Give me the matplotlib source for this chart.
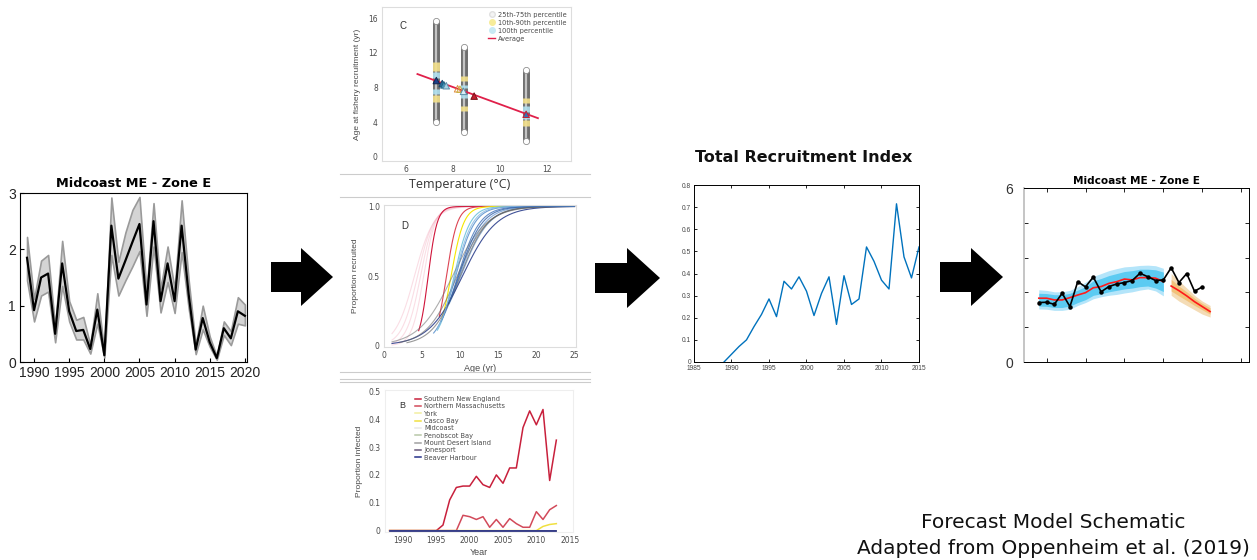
import numpy as np
import matplotlib
matplotlib.use("Agg")
import matplotlib.pyplot as plt
from matplotlib.patches import Polygon
from matplotlib.lines import Line2D

# ---------------- data ----------------
# Panel 1: Midcoast ME - Zone E (recruitment, with band)
years1 = list(range(1989, 2021))
rec1 = [1.85, 0.92, 1.5, 1.57, 0.5, 1.75, 0.9, 0.55, 0.57, 0.23, 0.93, 0.12,
        2.42, 1.48, 1.8, 2.13, 2.45, 1.02, 2.5, 1.08, 1.75, 1.08, 2.42, 1.2,
        0.22, 0.78, 0.35, 0.07, 0.6, 0.42, 0.9, 0.82]
rec1_hi = [2.22, 1.12, 1.8, 1.9, 0.62, 2.15, 1.08, 0.75, 0.8, 0.3, 1.22, 0.18,
           2.92, 1.78, 2.3, 2.7, 2.93, 1.25, 2.82, 1.3, 2.05, 1.3, 2.87, 1.45,
           0.3, 1.0, 0.45, 0.1, 0.72, 0.55, 1.15, 1.02]
rec1_lo = [1.45, 0.72, 1.18, 1.25, 0.35, 1.35, 0.72, 0.4, 0.4, 0.15, 0.68, 0.08,
           1.9, 1.18, 1.45, 1.7, 1.97, 0.82, 2.05, 0.88, 1.42, 0.87, 1.95, 0.95,
           0.14, 0.58, 0.27, 0.04, 0.48, 0.3, 0.68, 0.65]

# Panel C: age at fishery recruitment vs temperature
col_temps = [7.3, 8.45, 11.1]
col_min = [4.0, 2.9, 1.8]
col_max = [15.7, 12.7, 10.0]
col_yellow = [[(9.9, 10.9), (6.3, 7.1)], [(8.7, 9.3), (5.3, 5.8)], [(6.2, 6.8), (3.6, 4.2)]]
col_blue = [[(9.1, 9.8), (7.2, 7.8)], [(6.8, 7.3), (7.9, 8.3)], [(5.2, 5.8), (4.3, 4.8)]]
avg_line_t = [6.5, 11.6]
avg_line_a = [9.55, 4.45]
tri_t = [7.3, 7.55, 7.62, 7.72, 8.2, 8.3, 8.45, 8.9, 11.1]
tri_a = [8.8, 8.45, 8.3, 8.2, 7.85, 7.8, 7.55, 7.0, 4.9]
tri_face = ['#1d3f8a', '#2a6fa0', '#3f8fb8', '#a9d5e8', 'none', 'none', '#d9f0f8', '#c41e2e', '#3a6fb0']
tri_edge = ['#10254f', '#17476b', '#20607f', '#5d8fa8', '#e08a3c', '#c9b13c', '#5d8fa8', '#7a1018', '#c41e2e']

# Panel D: selectivity curves (A50, slope, colour, alpha, start age)
sel_a50 = [4.0, 4.4, 4.8, 5.2, 5.8, 8.2, 8.8, 9.2, 9.4, 9.7, 9.9, 10.1, 10.3, 9.0, 9.6, 10.0, 9.3, 9.8]
sel_k = [0.8, 0.95, 1.1, 1.3, 1.7, 1.4, 1.2, 0.95, 0.8, 0.7, 0.6, 0.55, 0.45, 0.45, 0.5, 0.55, 0.85, 0.65]
sel_col = ['#f2a0b5', '#f2a0b5', '#f2a0b5', '#f2a0b5', '#d0143a', '#d93040', '#f5e600', '#6fc3dc',
           '#4a86c8', '#3d70b8', '#5b8fd0', '#6a98c8', '#2c3f8c', '#777777', '#666666', '#555555',
           '#86b7e0', '#2f5fa8']
sel_alpha = [0.35, 0.35, 0.35, 0.35, 1.0, 0.9, 1.0, 0.9, 0.8, 0.8, 0.7, 0.7, 0.9, 0.6, 0.6, 0.6, 0.8, 0.8]
sel_start = [1, 1, 1, 1, 4.5, 7.2, 7.5, 7.0, 6.5, 7.5, 8.0, 8.5, 1.0, 1.0, 2.0, 3.0, 7.0, 8.5]

# Panel B: proportion infected
years_b = list(range(1988, 2014))
sne = [0, 0, 0, 0, 0, 0, 0, 0, 0.02, 0.11, 0.155, 0.16, 0.16, 0.195, 0.165, 0.155,
       0.2, 0.17, 0.225, 0.225, 0.37, 0.43, 0.38, 0.435, 0.18, 0.325]
nma = [0, 0, 0, 0, 0, 0, 0, 0, 0, 0, 0, 0.055, 0.05, 0.04, 0.05, 0.012,
       0.04, 0.012, 0.043, 0.025, 0.012, 0.012, 0.068, 0.04, 0.075, 0.09]
casco = [0, 0, 0, 0, 0, 0, 0, 0, 0, 0, 0, 0, 0, 0, 0, 0,
         0, 0, 0, 0, 0, 0, 0.0, 0.015, 0.022, 0.025]
zeros_b = [0] * 26
b_names = ['Southern New England', 'Northern Massachusetts', 'York', 'Casco Bay', 'Midcoast',
           'Penobscot Bay', 'Mount Desert Island', 'Jonesport', 'Beaver Harbour']
b_cols = ['#c8203c', '#d24a5a', '#f3efa0', '#f0e040', '#e8e8e8', '#b8c8a8', '#a0a0a0', '#6a5a7a', '#24308a']

# Total Recruitment Index
years_t = list(range(1989, 2016))
tri = [0.0, 0.035, 0.07, 0.1, 0.16, 0.215, 0.285, 0.205, 0.365, 0.33, 0.385, 0.32, 0.21,
       0.31, 0.385, 0.17, 0.39, 0.26, 0.285, 0.52, 0.455, 0.37, 0.33, 0.715, 0.475, 0.38, 0.52]

# Right panel: hindcast / forecast
years_h = list(range(1989, 2006))
obs_years = list(range(1989, 2011))
obs = [2.05, 2.06, 1.99, 2.37, 1.91, 2.77, 2.59, 2.93, 2.42, 2.60, 2.69, 2.74, 2.81,
       3.06, 2.94, 2.81, 2.83, 3.25, 2.74, 3.05, 2.44, 2.59]
hind = [2.20, 2.20, 2.14, 2.14, 2.22, 2.31, 2.39, 2.56, 2.60, 2.71, 2.77, 2.86, 2.83,
        2.91, 2.91, 2.89, 2.77]
h_out_hi = [2.49, 2.47, 2.42, 2.42, 2.47, 2.6, 2.75, 2.95, 3.05, 3.15, 3.22, 3.28, 3.3, 3.33, 3.34, 3.32, 3.23]
h_out_lo = [1.83, 1.82, 1.78, 1.78, 1.82, 1.95, 2.05, 2.18, 2.25, 2.3, 2.33, 2.38, 2.42, 2.48, 2.52, 2.45, 2.28]
h_in_hi = [2.37, 2.36, 2.32, 2.32, 2.37, 2.48, 2.6, 2.8, 2.88, 2.98, 3.05, 3.12, 3.15, 3.2, 3.2, 3.18, 3.1]
h_in_lo = [1.93, 1.92, 1.88, 1.88, 1.93, 2.05, 2.15, 2.3, 2.35, 2.42, 2.47, 2.52, 2.55, 2.6, 2.62, 2.55, 2.43]
years_f = list(range(2006, 2012))
fore = [2.62, 2.46, 2.28, 2.08, 1.91, 1.74]
f_out_hi = [3.05, 2.8, 2.55, 2.3, 2.1, 1.95]
f_out_lo = [2.3, 2.1, 1.95, 1.8, 1.65, 1.55]
f_in_hi = [2.85, 2.62, 2.42, 2.2, 2.02, 1.87]
f_in_lo = [2.45, 2.28, 2.12, 1.95, 1.8, 1.65]

# ---------------- figure ----------------
W, H = 1257, 560
fig = plt.figure(figsize=(W / 100, H / 100), dpi=100)
fig.patch.set_facecolor('white')


def rect(l, t, r, b):
    return [l / W, 1 - b / H, (r - l) / W, (b - t) / H]


def fx(x):
    return x / W


def fy(y):
    return 1 - y / H


ARIAL = ['Liberation Sans', 'DejaVu Sans']
WIDE = ['DejaVu Sans']

# ---- Panel 1 ----
ax1 = fig.add_axes(rect(20, 193, 247, 362))
ax1.fill_between(years1, rec1_lo, rec1_hi, facecolor='#d4d4d4', edgecolor='#9a9a9a', lw=1.2)
ax1.plot(years1, rec1, color='black', lw=1.6)
ax1.set_xlim(1988, 2020.3)
ax1.set_ylim(0, 3)
ax1.set_xticks(range(1990, 2021, 5))
ax1.set_yticks([0, 1, 2, 3])
ax1.tick_params(direction='in', length=3, labelsize=10, top=False, right=False, pad=3)
for lab in ax1.get_xticklabels() + ax1.get_yticklabels():
    lab.set_family(ARIAL)
    lab.set_color('#222222')
ax1.set_title('Midcoast ME - Zone E', fontsize=9.3, fontweight='bold', family=WIDE, pad=4)
for s in ax1.spines.values():
    s.set_linewidth(0.8)

# ---- Arrows ----
def block_arrow(x0, x1, xs, yc, hs, hh):
    pts = [(x0, yc - hs), (xs, yc - hs), (xs, yc - hh), (x1, yc), (xs, yc + hh), (xs, yc + hs), (x0, yc + hs)]
    pts = [(fx(a), fy(b)) for a, b in pts]
    fig.add_artist(Polygon(pts, closed=True, transform=fig.transFigure, facecolor='black', edgecolor='none'))

block_arrow(271, 333, 301, 277, 15, 29)
block_arrow(595, 660, 627, 278, 15, 30)
block_arrow(940, 1003, 971, 277, 15, 29)

GRAY_T = '#4a4a4a'

# ---- Panel C ----
axc = fig.add_axes(rect(382, 7, 571, 161))
for i, t in enumerate(col_temps):
    axc.vlines(t, col_min[i], col_max[i], color='#6e6e6e', lw=5.0, zorder=2)
    axc.vlines(t, col_min[i], col_max[i], color='#c4c4c4', lw=1.6, zorder=2)
    for (a, b) in col_yellow[i]:
        axc.vlines(t, a, b, color='#f3e08a', lw=5.0, zorder=3, alpha=0.9)
    for (a, b) in col_blue[i]:
        axc.vlines(t, a, b, color='#b0e0ef', lw=5.0, zorder=3, alpha=0.9)
    axc.scatter([t, t], [col_min[i], col_max[i]], s=20, facecolor='white', edgecolor='#909090', lw=0.6, zorder=4)
axc.plot(avg_line_t, avg_line_a, color='#e0204a', lw=1.3, zorder=5)
axc.scatter(tri_t, tri_a, marker='^', s=22, c=tri_face, edgecolors=tri_edge, linewidths=0.7, zorder=6)
axc.set_xlim(5, 13)
axc.set_ylim(-0.5, 17.3)
axc.set_xticks([6, 8, 10, 12])
axc.set_yticks([0, 4, 8, 12, 16])
axc.tick_params(length=0, labelsize=5.5, labelcolor=GRAY_T, pad=3)
for s in axc.spines.values():
    s.set_color('#dddddd')
    s.set_linewidth(0.8)
axc.set_ylabel('Age at fishery recruitment (yr)', fontsize=6, color=GRAY_T, family=ARIAL, labelpad=5)
axc.text(5.75, 14.8, 'C', fontsize=7, color='#333333', family=ARIAL)
leg_c = [Line2D([], [], ls='none', marker='o', markersize=4, markerfacecolor='#f4f4f4', markeredgecolor='#e0e0e0'),
         Line2D([], [], ls='none', marker='o', markersize=4, markerfacecolor='#f6ec9a', markeredgecolor='#f6ec9a'),
         Line2D([], [], ls='none', marker='o', markersize=4, markerfacecolor='#c8eaf4', markeredgecolor='#c8eaf4'),
         Line2D([], [], color='#e0204a', lw=1)]
axc.legend(leg_c, ['25th-75th percentile', '10th-90th percentile', '100th percentile', 'Average'],
           loc='upper right', fontsize=4.8, frameon=False, handlelength=1.0, handletextpad=0.4,
           labelspacing=0.3, borderaxespad=0.3, labelcolor=GRAY_T)
fig.text(fx(460), fy(185), 'Temperature (°C)', fontsize=9, color='#333333', ha='center', va='center',
         family=['Open Sans', 'DejaVu Sans'])

# separator lines
for yy in [174, 197, 372, 379, 382]:
    fig.add_artist(Line2D([fx(340), fx(590)], [fy(yy), fy(yy)], transform=fig.transFigure, color='#cccccc', lw=0.8))

# ---- Panel D ----
axd = fig.add_axes(rect(384, 205, 576, 347))
ages_full = np.linspace(0.5, 25, 400)
for a50, k, c, al, st in zip(sel_a50, sel_k, sel_col, sel_alpha, sel_start):
    ages = ages_full[ages_full >= st]
    axd.plot(ages, 1 / (1 + np.exp(-k * (ages - a50))), color=c, alpha=al, lw=0.8)
axd.set_xlim(0, 25.2)
axd.set_ylim(-0.01, 1.01)
axd.set_xticks([0, 5, 10, 15, 20, 25])
axd.set_yticks([0, 0.5, 1.0])
axd.set_yticklabels(['0', '0.5', '1.0'])
axd.tick_params(length=0, labelsize=5.5, labelcolor=GRAY_T, pad=3)
for s in axd.spines.values():
    s.set_color('#dddddd')
    s.set_linewidth(0.8)
axd.set_ylabel('Proportion recruited', fontsize=6, color=GRAY_T, family=ARIAL, labelpad=6)
axd.set_xlabel('Age (yr)', fontsize=6.5, color=GRAY_T, family=ARIAL, labelpad=3)
axd.text(2.3, 0.84, 'D', fontsize=7, color='#333333', family=ARIAL)

# ---- Panel B ----
axb = fig.add_axes(rect(385, 390, 573, 532))
for nm, c in zip(b_names, b_cols):
    if nm == 'Southern New England':
        axb.plot(years_b, sne, color=c, lw=1.1)
    elif nm == 'Northern Massachusetts':
        axb.plot(years_b, nma, color=c, lw=1.1)
    elif nm == 'Casco Bay':
        axb.plot(years_b, casco, color=c, lw=1.1)
    else:
        axb.plot(years_b, zeros_b, color=c, lw=1.1)
axb.set_xlim(1987.3, 2015.5)
axb.set_ylim(-0.005, 0.505)
axb.set_xticks([1990, 1995, 2000, 2005, 2010, 2015])
axb.set_yticks([0, 0.1, 0.2, 0.3, 0.4, 0.5])
axb.set_yticklabels(['0', '0.1', '0.2', '0.3', '0.4', '0.5'])
axb.tick_params(length=0, labelsize=5.5, labelcolor=GRAY_T, pad=3)
for s in axb.spines.values():
    s.set_color('#eeeeee')
    s.set_linewidth(0.8)
axb.set_ylabel('Proportion infected', fontsize=6, color=GRAY_T, family=ARIAL, labelpad=4)
axb.set_xlabel('Year', fontsize=6.5, color=GRAY_T, family=ARIAL, labelpad=2)
axb.text(1989.5, 0.44, 'B', fontsize=6.5, color='#333333', family=ARIAL)
axb.legend(b_names, loc='upper left', bbox_to_anchor=(0.13, 1.0), fontsize=4.8, frameon=False,
           handlelength=0.9, handletextpad=0.4, labelspacing=0.2, labelcolor=GRAY_T)

# ---- Total Recruitment Index ----
axt = fig.add_axes(rect(694, 185, 919, 362))
axt.plot(years_t, tri, color='#0072bd', lw=1.0)
axt.set_xlim(1985, 2015)
axt.set_ylim(0, 0.8)
axt.set_xticks(range(1985, 2016, 5))
axt.set_yticks([0, 0.1, 0.2, 0.3, 0.4, 0.5, 0.6, 0.7, 0.8])
axt.set_yticklabels(['0', '0.1', '0.2', '0.3', '0.4', '0.5', '0.6', '0.7', '0.8'])
axt.tick_params(direction='in', length=2.5, width=0.6, labelsize=4.8, labelcolor='#444444',
                top=True, right=True, pad=2)
for lab in axt.get_xticklabels() + axt.get_yticklabels():
    lab.set_family(ARIAL)
for s in axt.spines.values():
    s.set_linewidth(0.7)
fig.text(fx(804), fy(157), 'Total Recruitment Index', fontsize=11.5, fontweight='bold', ha='center',
         va='center', family=WIDE, color='#111111')

# ---- Right panel ----
axr = fig.add_axes(rect(1024, 188, 1249, 362))
axr.fill_between(years_h, h_out_lo, h_out_hi, color='#b4e5fa', lw=0)
axr.fill_between(years_h, h_in_lo, h_in_hi, color='#5ccbf2', lw=0)
axr.plot(years_h, hind, color='#ff1a1a', lw=1.2)
axr.fill_between(years_f, f_out_lo, f_out_hi, color='#f4dcb6', lw=0)
axr.fill_between(years_f, f_in_lo, f_in_hi, color='#f2c27a', lw=0)
axr.plot(years_f, fore, color='#ff1a1a', lw=1.2)
axr.plot(obs_years, obs, color='black', lw=1.2, marker='o', markersize=2.2)
axr.set_xlim(1987.1, 2016)
axr.set_ylim(0, 6)
axr.set_xticks(range(1990, 2016, 5))
axr.set_xticklabels([])
axr.set_yticks([0, 1.2, 2.4, 3.6, 4.8, 6])
axr.set_yticklabels(['0', '', '', '', '', '6'])
axr.tick_params(direction='in', length=3, width=0.6, labelsize=10, top=True, right=True, pad=8)
for lab in axr.get_yticklabels():
    lab.set_family(ARIAL)
    lab.set_color('#333333')
for s in axr.spines.values():
    s.set_linewidth(0.7)
axr.spines['left'].set_color('#bbbbbb')
axr.spines['left'].set_linewidth(1.2)
axr.set_title('Midcoast ME - Zone E', fontsize=7.6, fontweight='bold', family=WIDE, pad=3)

# ---- caption ----
fig.text(fx(1053), fy(522), 'Forecast Model Schematic', fontsize=14.5, ha='center', va='center',
         family=WIDE, color='#111111')
fig.text(fx(1053), fy(549), 'Adapted from Oppenheim et al. (2019)', fontsize=14.5, ha='center', va='center',
         family=WIDE, color='#111111')

fig.savefig('out.png', dpi=100)
